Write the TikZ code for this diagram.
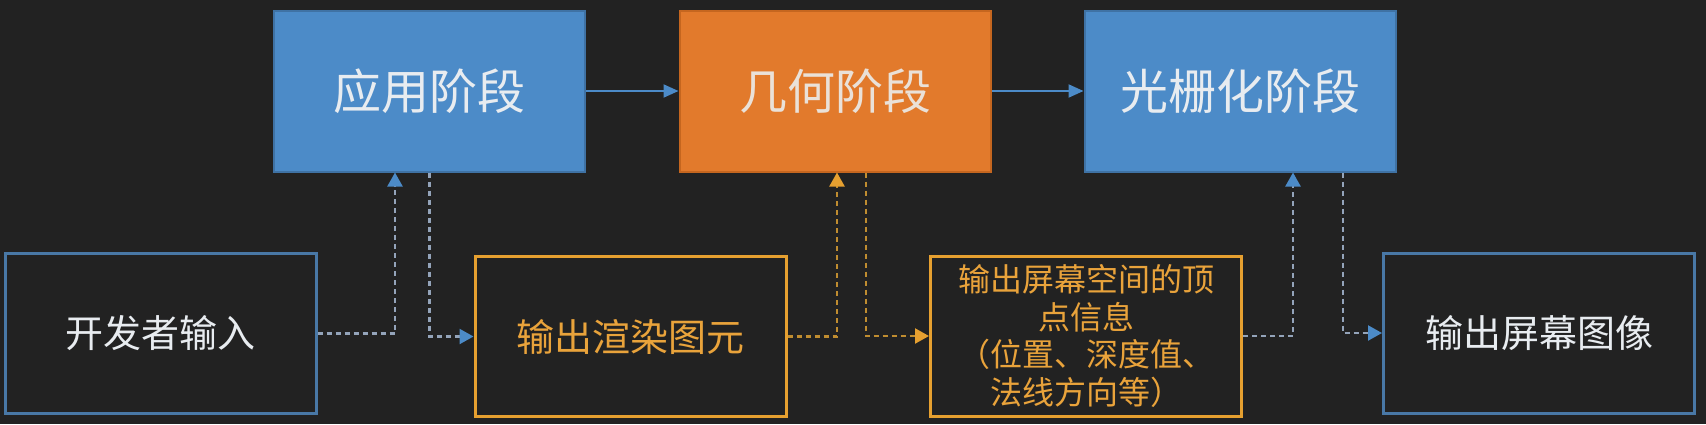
\documentclass[tikz,border=0pt]{standalone}
\usepackage{fontspec}
\newfontfamily\cjk{Noto Sans CJK SC}
\usetikzlibrary{arrows.meta}
\definecolor{bg}{HTML}{222222}
\definecolor{blueA}{HTML}{4C8BC8}
\definecolor{blueD}{HTML}{3F72A4}
\definecolor{blueL}{HTML}{4978A6}
\definecolor{orangeA}{HTML}{E27A2C}
\definecolor{orangeD}{HTML}{C5661F}
\definecolor{gold}{HTML}{E6A030}
\definecolor{goldtext}{HTML}{E9A33B}
\definecolor{dashgray}{HTML}{94A4BA}
\definecolor{dashgold}{HTML}{C08D30}
\definecolor{lite}{HTML}{E8ECF0}

\begin{document}
\begin{tikzpicture}[x=1pt,y=-1pt,
      stage/.style={rectangle,draw=blueD,fill=blueA,line width=2pt,
        minimum width=311pt,minimum height=161pt,inner sep=0pt,text=lite,
        font=\cjk\fontsize{48}{56}\selectfont},
      hot/.style={stage,draw=orangeD,fill=orangeA,text=lite!90!orange},
      io/.style={rectangle,draw=blueL,fill=bg,line width=3pt,
        minimum width=311pt,minimum height=160pt,inner sep=0pt,text=lite,
        font=\cjk\fontsize{38}{44}\selectfont},
      res/.style={io,draw=gold,text=goldtext},
      link/.style={blueA,line width=2pt,-{Triangle[length=15pt,width=13pt]}},
      flow/.style={dashgray,line width=2.2pt,dash pattern=on 5pt off 4pt,
        -{Triangle[length=14pt,width=15pt,blueA]}},
      flowgold/.style={flow,dashgold,-{Triangle[length=14pt,width=15pt,gold]}}]
      \fill[bg] (0,0) rectangle (1706,424);
      \useasboundingbox (0,0) rectangle (1706,424);
      % Stages
      \node[stage] (app) at (429.5,91) {应用阶段};
      \node[hot] (geo) at (835,91) {几何阶段};
      \node[stage] (rast) at (1240,91) {光栅化阶段};
      % Inputs and outputs
      \node[io] (in) at (160.5,333.5) {开发者输入};
      \node[res] (prim) at (630.5,336.5) {输出渲染图元};
      \node[res,font=\cjk\fontsize{32}{37.5}\selectfont,align=center] (vert) at (1086,336)
        {输出屏幕空间的顶\\点信息\\（位置、深度值、\\法线方向等）};
      \node[io] (out) at (1539,333) {输出屏幕图像};
      % Pipeline
      \draw[link] (app) -- (geo);
      \draw[link] (geo) -- (rast);
      % Data flow
      \draw[flow] (in.east) -| ([xshift=-34.5pt]app.south);
      \draw[flow] (app.south) |- (prim.west);
      \draw[flowgold] (prim.east) -| ([xshift=2pt]geo.south);
      \draw[flowgold] ([xshift=31pt]geo.south) |- (vert.west);
      \draw[flow] (vert.east) -| ([xshift=53pt]rast.south);
      \draw[flow] ([xshift=103pt]rast.south) |- (out.west);
    \end{tikzpicture}
\end{document}
